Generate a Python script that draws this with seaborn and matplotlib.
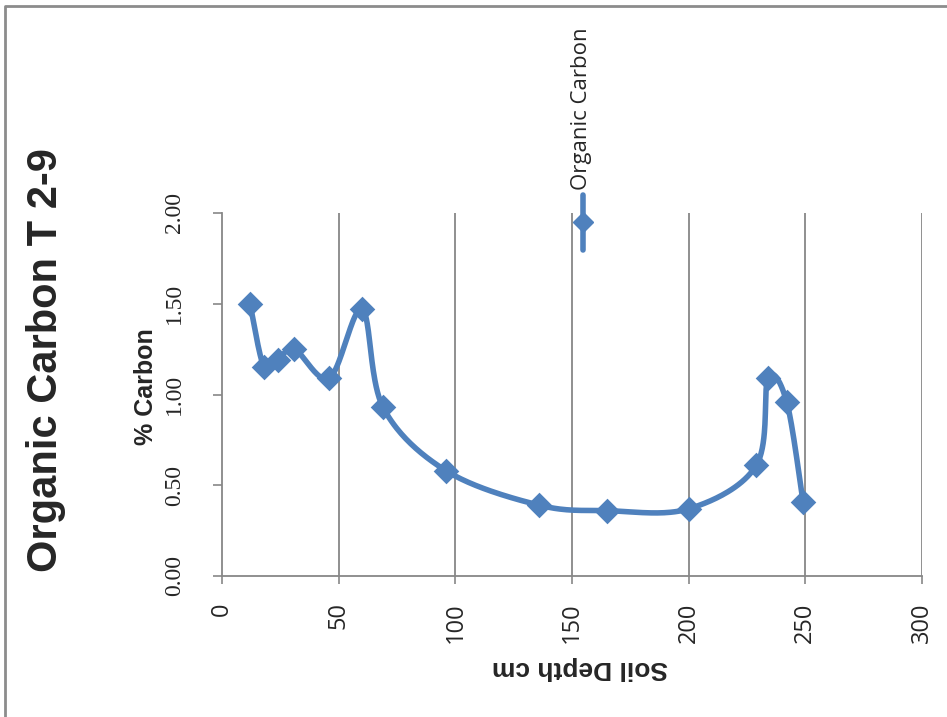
import numpy as np
import pandas as pd
import matplotlib
matplotlib.use("Agg")
import matplotlib.pyplot as plt
from matplotlib.lines import Line2D
from matplotlib.font_manager import FontProperties
import seaborn as sns

# Soil profile T 2-9: organic carbon by depth
depth_cm = [12, 18, 24, 31, 46, 60, 69, 96, 136, 165, 200, 229, 234, 242, 249]
carbon_pct = [1.50, 1.15, 1.19, 1.25, 1.09, 1.47, 0.93, 0.58, 0.39, 0.36, 0.37, 0.61, 1.09, 0.96, 0.41]
x_ticks = [0, 50, 100, 150, 200, 250, 300]
y_ticks = [0.0, 0.5, 1.0, 1.5, 2.0]
y_tick_labels = ["0.00", "0.50", "1.00", "1.50", "2.00"]

BLUE = "#4F81BD"
GREY = "#878787"
W, H = 947, 717


def smooth_curve(x, y, steps=40):
    """Cardinal (Catmull-Rom style) Bezier smoothing through every point."""
    pts = np.column_stack([x, y]).astype(float)
    padded = np.vstack([pts[0], pts, pts[-1]])
    out = []
    t = np.linspace(0, 1, steps)[:, None]
    for i in range(len(pts) - 1):
        p0, p1, p2, p3 = padded[i], padded[i + 1], padded[i + 2], padded[i + 3]
        c1 = p1 + (p2 - p0) / 6.0
        c2 = p2 - (p3 - p1) / 6.0
        seg = ((1 - t) ** 3) * p1 + 3 * ((1 - t) ** 2) * t * c1 + 3 * (1 - t) * t ** 2 * c2 + t ** 3 * p2
        out.append(seg if i == 0 else seg[1:])
    curve = np.vstack(out)
    return curve[:, 0], curve[:, 1]


sns.set_theme(style="white")
plt.rcParams["font.family"] = ["Liberation Sans", "DejaVu Sans"]

df = pd.DataFrame({"depth": depth_cm, "carbon": carbon_pct})
sx, sy = smooth_curve(df["depth"].values, df["carbon"].values)
curve = pd.DataFrame({"depth": sx, "carbon": sy})

fig = plt.figure(figsize=(W / 100, H / 100), dpi=100)
ax = fig.add_axes([222 / W, 1 - 576 / H, 700 / W, 363 / H])

sns.lineplot(data=curve, x="depth", y="carbon", sort=False, estimator=None,
             color=BLUE, linewidth=4.0, ax=ax, zorder=3)
sns.scatterplot(data=df, x="depth", y="carbon", marker="D", s=170,
                color=BLUE, edgecolor=BLUE, linewidth=0, ax=ax, zorder=4)

ax.set_xlim(0, 300)
ax.set_ylim(0, 2)
ax.set_xlabel("")
ax.set_ylabel("")

ax.set_xticks(x_ticks)
ax.set_xticklabels([str(v) for v in x_ticks])
ax.set_yticks(y_ticks)
ax.set_yticklabels(y_tick_labels)

ax.tick_params(axis="x", direction="out", length=6, width=1.2, color=GREY, pad=13,
               bottom=True, labelsize=17, labelrotation=90)
ax.tick_params(axis="y", direction="out", length=6.5, width=1.2, color=GREY, pad=20,
               left=True, labelsize=17, labelrotation=90)

x_font = FontProperties(family=["Open Sans", "DejaVu Sans"], size=17)
y_font = FontProperties(family=["Liberation Serif", "DejaVu Serif"], size=17)
for lab in ax.get_xticklabels():
    lab.set_fontproperties(x_font)
    lab.set_verticalalignment("top")
    lab.set_horizontalalignment("center")
for lab in ax.get_yticklabels():
    lab.set_fontproperties(y_font)
    lab.set_verticalalignment("center")
    lab.set_horizontalalignment("right")

for v in x_ticks[1:]:
    ax.axvline(v, color=GREY, linewidth=1.3, zorder=1)

for side in ["top", "right"]:
    ax.spines[side].set_visible(False)
for side in ["left", "bottom"]:
    ax.spines[side].set_color(GREY)
    ax.spines[side].set_linewidth(1.3)

# Chart title and axis titles
fig.text(46 / W, 1 - 360 / H, "Organic Carbon T 2-9", rotation=90, fontsize=30,
         fontweight="bold", ha="center", va="center")
fig.text(146 / W, 1 - 387 / H, "% Carbon", rotation=90, fontsize=18,
         fontweight="bold", ha="center", va="center")
fig.text(580 / W, 1 - 668 / H, "Soil Depth cm", rotation=180, fontsize=19,
         fontweight="bold", ha="center", va="center")

# Legend entry drawn vertically above the plot
fig.add_artist(Line2D([583 / W, 583 / W], [1 - 195 / H, 1 - 250 / H],
                      color=BLUE, linewidth=4.0, transform=fig.transFigure))
fig.add_artist(Line2D([583 / W], [1 - 222 / H], marker="D", markersize=10,
                      color=BLUE, linestyle="none", transform=fig.transFigure))
fig.text(582 / W, 1 - 190 / H, "Organic Carbon", rotation=90, fontsize=16,
         family=["Open Sans", "DejaVu Sans"], ha="center", va="bottom")

# Chart area border (top and left edges)
fig.add_artist(Line2D([5 / W, 5 / W, 1.0], [0.0, 1 - 6 / H, 1 - 6 / H],
                      color="#8C8C8C", linewidth=2.0, transform=fig.transFigure))

fig.savefig("out.png", dpi=100, facecolor="white")
